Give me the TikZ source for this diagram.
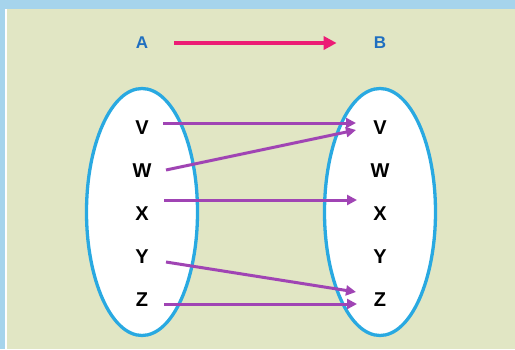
\documentclass[tikz,border=0pt]{standalone}
\usepackage{fontspec}
\setmainfont{Liberation Sans}
\usetikzlibrary{arrows.meta,positioning,shapes.geometric}
\definecolor{frameblue}{HTML}{A6D4EC}
\definecolor{paper}{HTML}{E1E6C4}
\definecolor{setblue}{HTML}{29A9E1}
\definecolor{titleblue}{HTML}{1F6FC0}
\definecolor{mappink}{HTML}{EC1C75}
\definecolor{mappurple}{HTML}{A044B4}
\tikzset{
  setshape/.style={ellipse, draw=setblue, line width=3.3pt, fill=white,
    minimum width=111pt, minimum height=247pt, inner sep=0pt},
  elem/.style={font=\bfseries\fontsize{20}{20}\selectfont, inner sep=0pt},
  settitle/.style={font=\bfseries\fontsize{17}{17}\selectfont, text=titleblue,
    inner sep=0pt},
  maparrow/.style={draw=mappurple, line width=3pt,
    -{Triangle[length=10pt,width=10pt]}},
}
\begin{document}
\begin{tikzpicture}[x=1pt,y=-1pt]
  %% frame and paper
  \fill[frameblue] (0,0) rectangle (515,349);
  \fill[white] (5,9) rectangle (515,349);
  \fill[paper] (7,9) rectangle (515,349);
  \useasboundingbox (0,0) rectangle (515,349);

  %% set names
  \node[settitle] (A) at (142,43) {A};
  \node[settitle] (B) at (380,43) {B};
  \draw[draw=mappink, line width=4pt, shorten <=26pt, shorten >=37pt,
    -{Triangle[length=13pt,width=13pt]}] (A.east) -- (B.west);

  %% the two sets
  \node[setshape] (setA) at (142,212) {};
  \node[setshape] (setB) at (380,212) {};
  \foreach \l/\y in {V/128,W/171,X/214,Y/257,Z/300} {
    \node[elem] (a\l) at (142,\y) {\l};
    \node[elem] (b\l) at (380,\y) {\l};
  }

  %% ends of the mapping arrows
  \foreach \n/\x/\y in {vs/163/123, ve/356/123, ws/166/170, we/356/130,
      xs/164/200, xe/357/200, ys/166/262, ye/356/292, zs/164/304, ze/357/304}
    \coordinate (\n) at (\x,\y);
  \foreach \s/\e in {vs/ve, ws/we, xs/xe, ys/ye, zs/ze}
    \draw[maparrow] (\s) -- (\e);
\end{tikzpicture}
\end{document}
